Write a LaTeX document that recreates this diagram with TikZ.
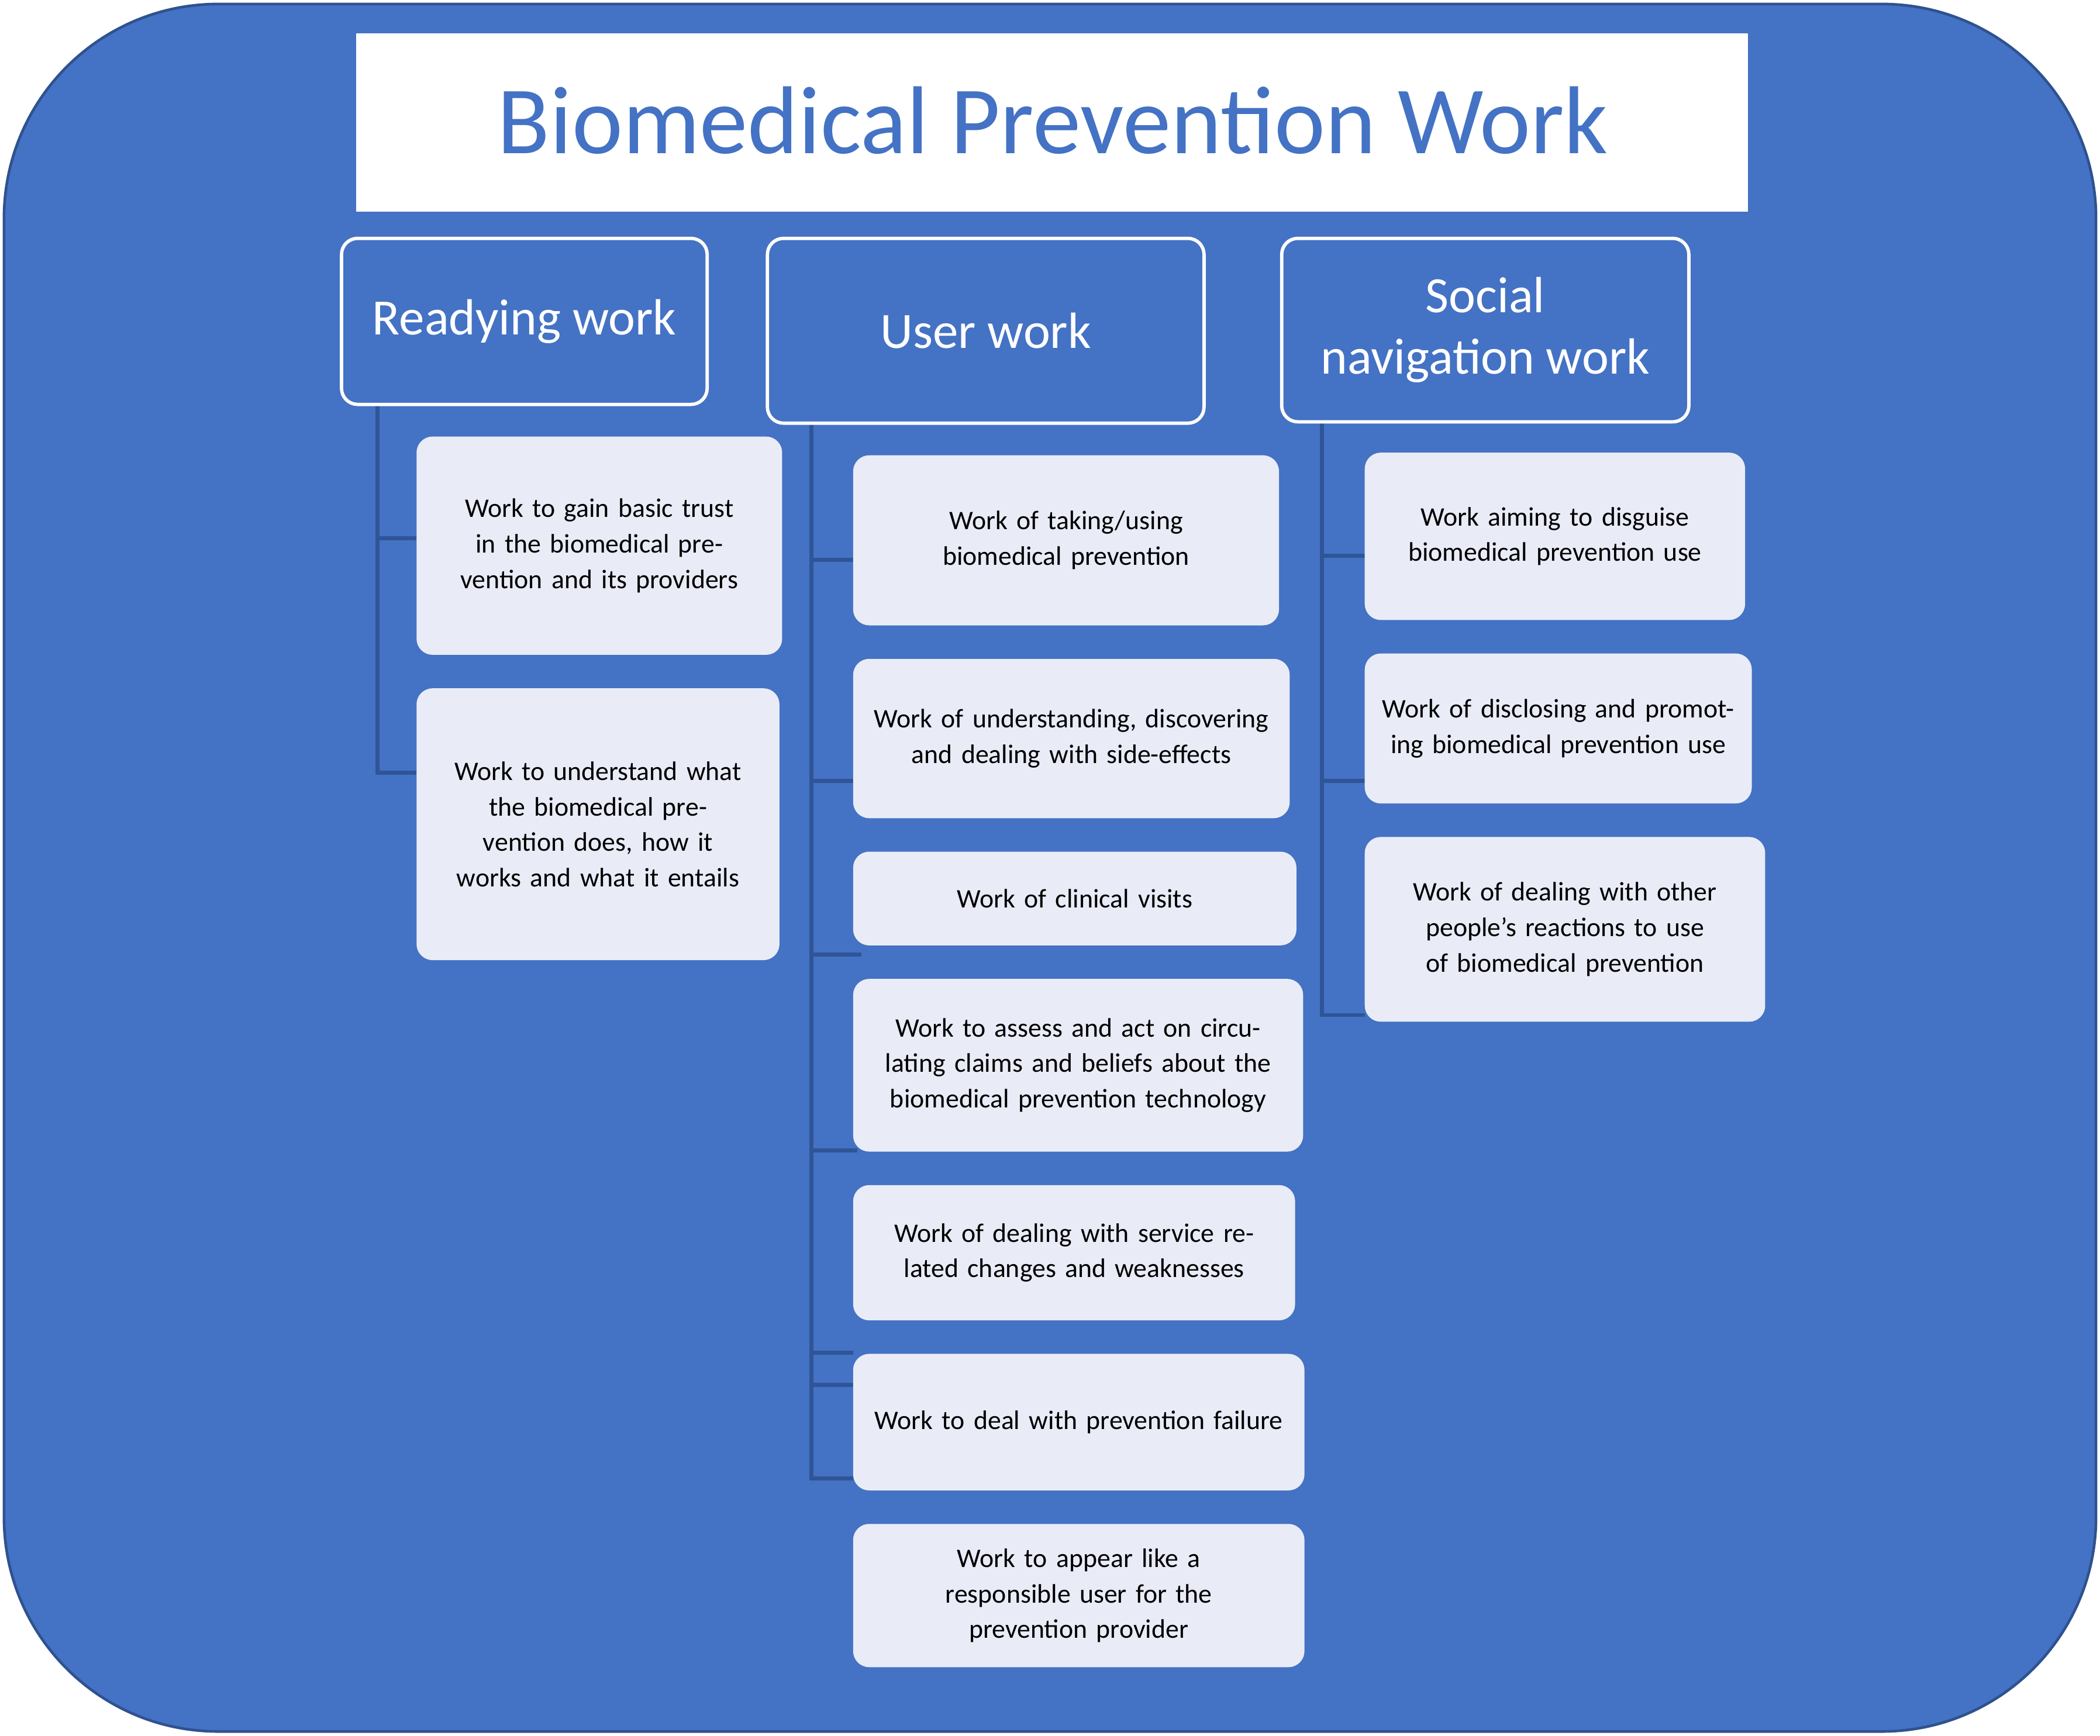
\documentclass[tikz,border=0pt]{standalone}
\usepackage{fontspec}
\setmainfont{Carlito}
\definecolor{bg}{HTML}{4472C4}
\definecolor{bd}{HTML}{2F528F}
\definecolor{lt}{HTML}{E9ECF7}
\definecolor{ln}{HTML}{2F5597}
\begin{document}
\begin{tikzpicture}[x=1pt,y=-1pt,
 hdr/.style={draw=white,line width=2.5pt,fill=bg,rounded corners=12pt,text=white,font=\fontsize{38}{46}\selectfont,align=center},
 item/.style={fill=lt,rounded corners=12pt,font=\fontsize{20}{26.5}\selectfont,align=center},
 conn/.style={draw=ln,line width=3pt}]
\useasboundingbox (0,0) rectangle (1568,1296);
\draw[fill=bg,draw=bd,line width=2pt,rounded corners=160pt] (3,3) rectangle (1565,1293);
\fill[white] (266,25) rectangle (1305,158);
\node[text=bg,font=\fontsize{72}{80}\selectfont] (title) at (786,90) {Biomedical Prevention Work};
% connectors first
\coordinate (ra) at (282,302); \coordinate (rb) at (282,577);
\draw[conn] (ra) -- (rb) -- (311,577) (282,402) -- (311,402);
\coordinate (ua) at (606,316); \coordinate (ub) at (606,1104);
\draw[conn] (ua) -- (ub) -- (637,1104);
\foreach \y/\e in {418/637,583/637,713/643,859/640,1010/637,1034/637}{\draw[conn] (606,\y) -- (\e,\y);}
\coordinate (sa) at (987,315); \coordinate (sb) at (987,758);
\draw[conn] (sa) -- (sb) -- (1019,758) (987,415) -- (1019,415) (987,583) -- (1019,583);
% headers
\node[hdr,minimum width=273pt,minimum height=124pt] (h1) at (391.5,240) {Readying work};
\node[hdr,minimum width=326pt,minimum height=138pt] (h2) at (736,247) {User work};
\node[hdr,minimum width=304pt,minimum height=137pt] (h3) at (1109,246.5) {Social\\navigation work};
% items
\newcommand{\itm}[6]{\node[item,minimum width=#4pt-#2pt,minimum height=#5pt-#3pt,text width=#4pt-#2pt-8pt] (#1) at ({(#2+#4)/2},{(#3+#5)/2}) {#6};}
\itm{r1}{311}{326}{584}{489}{Work to gain basic trust in the biomedical prevention and its providers}
\itm{r2}{311}{514}{582}{717}{Work to understand what the biomedical prevention does, how it works and what it entails}
\itm{u1}{637}{340}{955}{467}{Work of taking/using\\biomedical prevention}
\itm{u2}{637}{492}{963}{611}{Work of understanding, discovering and dealing with side-effects}
\itm{u3}{637}{636}{968}{706}{Work of clinical visits}
\itm{u4}{637}{731}{973}{860}{Work to assess and act on circulating claims and beliefs about the biomedical prevention technology}
\itm{u5}{637}{885}{967}{986}{Work of dealing with service related changes and weaknesses}
\itm{u6}{637}{1011}{974}{1113}{Work to deal with prevention failure}
\itm{u7}{637}{1138}{974}{1245}{Work to appear like a\\responsible user for the\\prevention provider}
\itm{s1}{1019}{338}{1303}{463}{Work aiming to disguise biomedical prevention use}
\itm{s2}{1019}{488}{1308}{600}{Work of disclosing and promoting biomedical prevention use}
\itm{s3}{1019}{625}{1318}{763}{Work of dealing with other people's reactions to use of biomedical prevention}
\end{tikzpicture}
\end{document}
